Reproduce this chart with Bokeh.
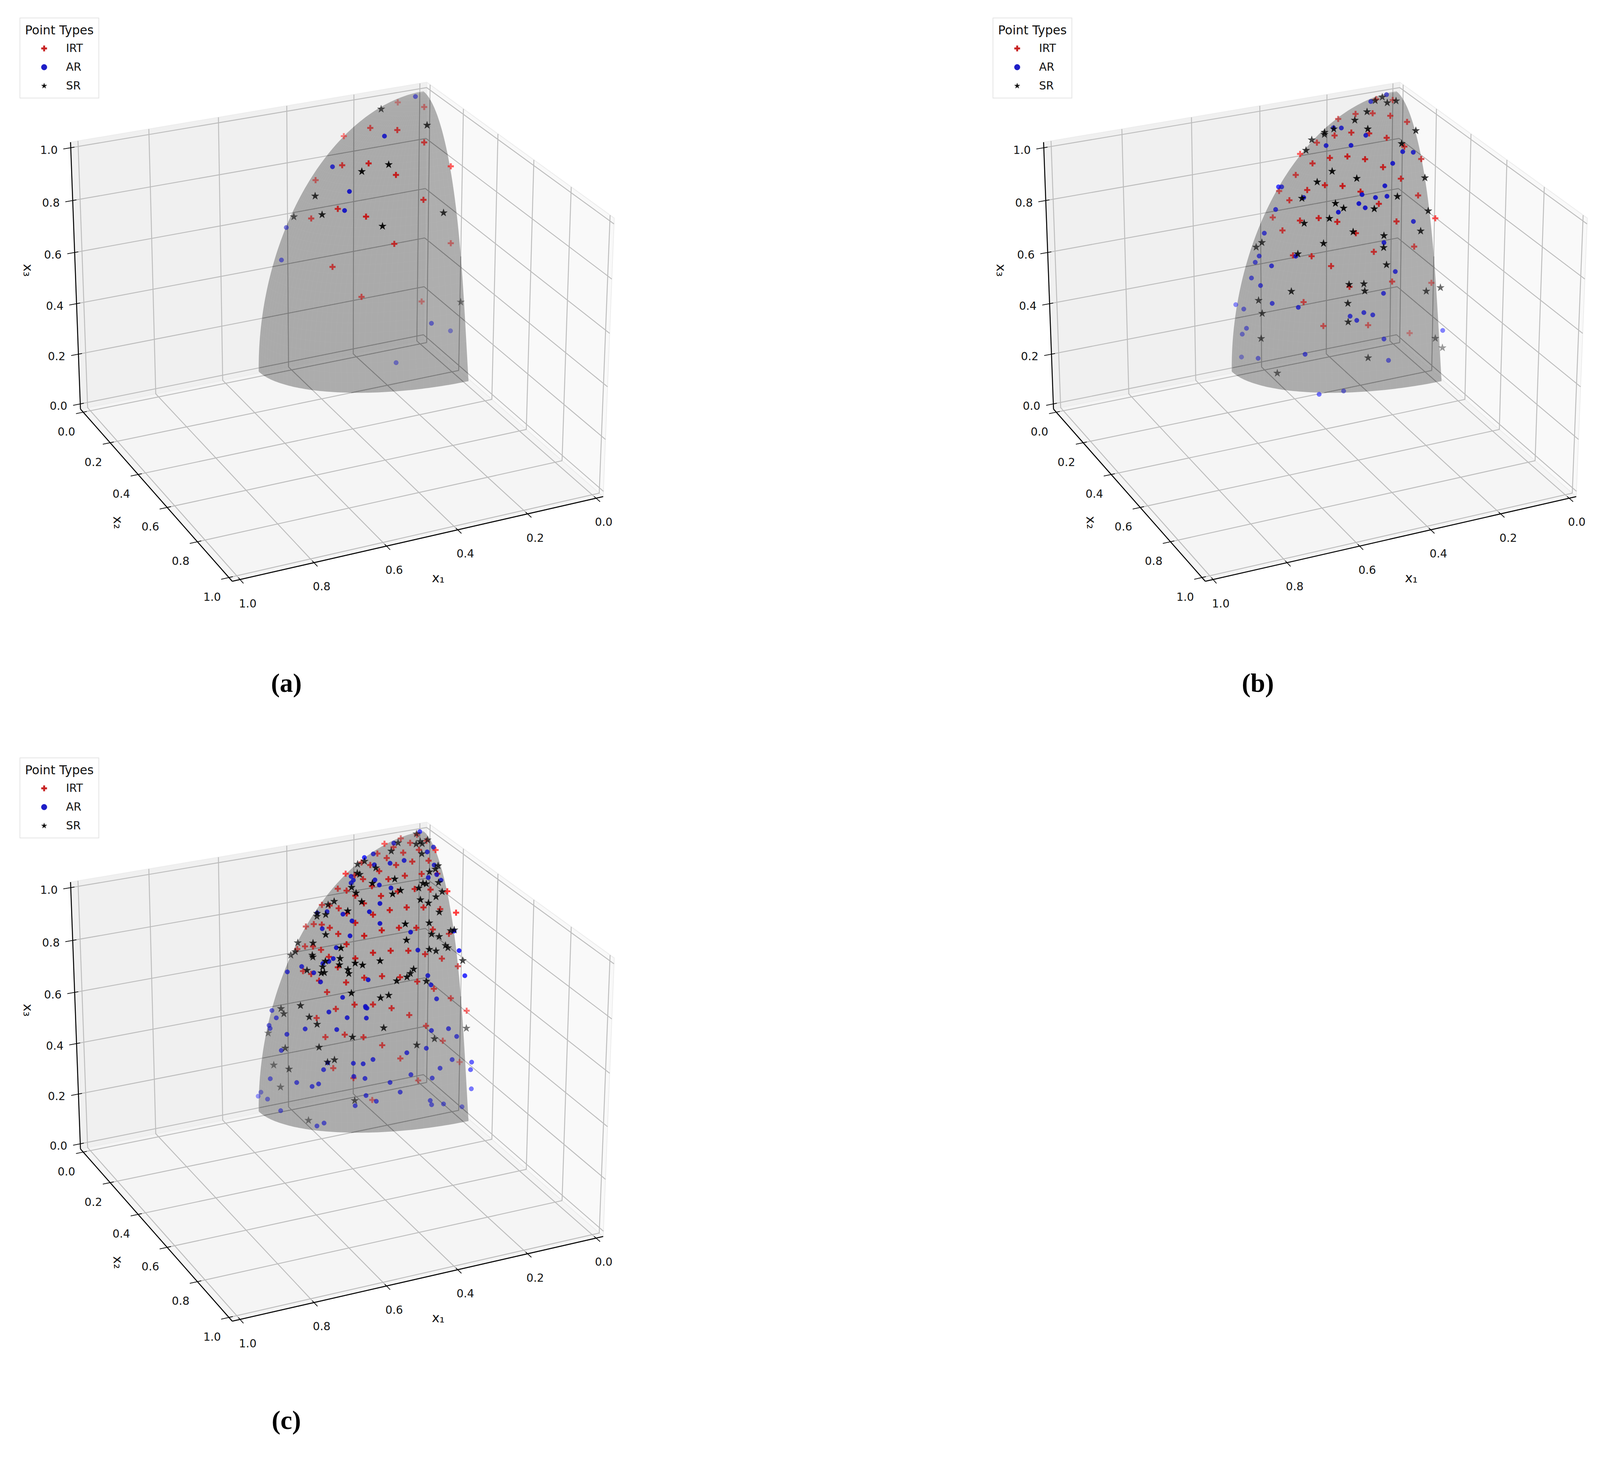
import numpy as np
from bokeh.plotting import figure
from bokeh.layouts import column, row
from bokeh.models import Range1d, Legend, LegendItem, ColumnDataSource
from bokeh.core.properties import value
from bokeh.embed import file_html
from bokeh.resources import INLINE

TICKS = [0.0, 0.2, 0.4, 0.6, 0.8, 1.0]
TICK_LABELS = ["0.0", "0.2", "0.4", "0.6", "0.8", "1.0"]
SERIES = ["IRT", "AR", "SR"]

# points (crop pixel readings)
A_IRT = [(988,123),(1163,145),(806,245),(985,255),(631,284),(1163,314),(1339,428),(620,423),(795,414),(976,469),(444,494),(1158,588),(591,631),(415,677),(778,668),(965,798),(1339,795),(556,908),(748,1051),(1146,1073)]
A_AR = [(1105,95),(900,284),(556,430),(668,548),(636,639),(250,720),(218,875),(1211,1177),(1337,1213),(977,1365)]
A_SR = [(878,155),(1182,232),(928,420),(750,453),(441,570),(487,659),(300,669),(1291,650),(887,714),(1405,1076)]

B_IRT = [(1067,107),(1176,112),(930,178),(1043,175),(1160,187),(1271,216),(815,202),(902,267),(1020,271),(791,281),(1136,292),(674,315),(1253,334),(563,369),(760,388),(876,381),(993,394),(1365,393),(645,414),(1112,432),(534,469),(1230,487),(727,518),(844,522),(610,541),(963,549),(424,546),(492,590),(1344,567),(1084,607),(382,672),(686,675),(562,687),(809,693),(1201,691),(1458,676),(446,734),(932,747),(1318,811),(516,853),(639,857),(1051,836),(768,904),(1172,978),(890,1003),(1432,984),(586,1076),(717,1190),(1013,1186),(1288,1224)]
B_AR = [(1135,86),(1031,119),(784,244),(836,245),(998,280),(735,329),(900,328),(1242,358),(1312,361),(1176,414),(420,526),(441,526),(1124,521),(587,577),(973,563),(1062,577),(1138,571),(952,606),(994,626),(816,647),(401,634),(326,747),(1313,691),(1118,792),(292,856),(534,857),(266,886),(374,903),(1193,930),(241,961),(301,997),(1115,1034),(137,1088),(190,1109),(378,1082),(551,1101),(894,1143),(985,1126),(1044,1137),(938,1163),(208,1201),(180,1229),(1507,1211),(1118,1252),(596,1325),(175,1338),(285,1344),(1148,1354),(851,1500),(689,1516)]
B_SR = [(1107,98),(1060,115),(1140,125),(1198,116),(1006,168),(925,208),(1329,258),(1011,250),(786,250),(725,266),(724,276),(640,302),(1235,320),(602,352),(775,452),(938,486),(1389,483),(676,503),(575,581),(1207,572),(797,605),(851,628),(1054,631),(1411,641),(757,677),(590,700),(1361,737),(914,741),(1118,759),(718,796),(310,792),(272,814),(1116,816),(548,846),(1135,898),(887,992),(985,989),(991,1023),(505,1025),(1398,1024),(1492,1007),(288,1068),(879,1082),(312,1130),(881,1171),(305,1250),(1458,1249),(1505,1294),(1013,1342),(412,1415)]

C_TOP_IRT = [(1008,163),(1115,135),(900,205),(1070,198),(1178,182),(960,232),(853,282),(1024,275),(1128,253),(1238,254),(915,317),(1192,338),(748,352),(1084,345),(806,372),(977,372),(865,420),(643,440),(1146,442),(1250,440),(703,453),(758,483),(926,483),(1035,456),(591,558),(817,538),(649,573),(1100,560),(1205,565),(988,579),(1316,578),(707,613),(877,615),(486,685),(537,690),(764,673),(597,712),(935,726),(1047,705),(1158,705),(1269,718),(650,752),(824,762),(1374,746),(380,855),(432,836),(485,840),(707,826),(538,865),(882,885),(996,865),(1111,865),(1220,878),(594,913),(766,928),(1327,912),(649,994),(374,1011),(427,1012),(323,1032),(480,1038),(824,1061),(941,1045),(1058,1045),(1169,1072),(532,1093),(707,1105),(1280,1107),(1386,1167),(591,1175),(361,1205),(415,1228),(884,1245),(766,1257),(1003,1253)]
C_TOP_AR = [(1134,110),(962,200),(1224,231),(1183,269),(826,285),(767,313),(1030,336),(937,358),(833,370),(1229,372),(679,461),(1246,447),(1190,470),(694,491),(837,489),(1274,491),(679,513),(866,529),(943,552),(870,674),(800,739),(520,738),(625,758),(455,748),(685,811),(870,831),(488,872),(1361,890),(1073,899),(672,928),(581,1021),(1121,1040),(1394,1044),(561,1107),(532,1129),(492,1145),(352,1169),(432,1218),(257,1211),(1432,1241),(1187,1240)]
C_TOP_SR = [(1112,128),(1185,175),(1137,188),(1110,208),(1150,205),(990,198),(945,263),(1147,284),(768,343),(722,366),(1255,378),(843,395),(1237,405),(720,436),(736,446),(1198,426),(968,482),(1258,510),(820,516),(1155,516),(1177,520),(682,548),(1127,553),(1006,571),(954,600),(712,592),(1282,582),(1241,622),(567,658),(527,684),(1138,645),(749,661),(1191,671),(657,733),(1263,742),(454,752),(453,776),(511,762),(1038,835),(1196,827),(1338,888),(1362,882),(511,919),(1212,915),(1262,934),(1046,962),(326,983),(427,985),(1304,1004),(1320,1022),(612,1024),(1197,1035),(1241,1047),(310,1053),(280,1080),(422,1080),(426,1095),(606,1106),(509,1127),(1418,1123),(871,1125),(706,1143),(755,1158),(602,1156),(491,1172),(387,1199),(1093,1190),(658,1194),(1071,1224),(1049,1252),(664,1225),(482,1220),(502,1217)]
C_LOW_IRT = [(467,20),(646,34),(1117,27),(1227,84),(520,110),(1339,158),(702,208),(824,207),(947,236),(578,242),(1444,256),(451,313),(1064,290),(1175,375),(637,444),(509,463),(761,464),(1286,492),(885,527),(1005,631),(1397,659),(561,707),(695,785),(1123,804),(819,957)]
C_LOW_AR = [(477,30),(792,13),(1208,53),(623,151),(1245,163),(774,222),(784,236),(776,232),(155,254),(532,266),(184,312),(653,311),(780,314),(136,371),(143,395),(375,399),(584,404),(1211,411),(1324,397),(254,441),(1378,458),(217,568),(1177,551),(1048,586),(824,639),(1348,640),(1477,660),(694,669),(759,673),(524,665),(1268,707),(497,719),(1470,719),(1075,758),(697,772),(144,790),(771,788),(1216,785),(319,820),(937,819),(464,831),(421,851),(1475,869),(82,896),(64,927),(1004,895),(778,922),(126,950),(846,967),(1203,961),(1212,994),(1291,988),(706,1002),(1413,1010),(213,1041),(500,1138),(453,1161)]
C_LOW_SR = [(981,22),(1177,25),(681,118),(874,155),(928,135),(215,240),(344,216),(234,280),(402,306),(454,363),(895,391),(1442,394),(130,432),(1231,477),(688,464),(1114,526),(243,550),(467,543),(569,642),(523,660),(167,683),(268,715),(212,856),(703,962),(397,1117)]

# layout factor: one reference pixel in page pixels
K = 0.978

# camera of the 3D box
ELEV, AZIM, DIST = np.radians(25.0), np.radians(65.0), 10.0
ASPECT = np.array([4.0, 4.0, 3.0])
L = ASPECT * 1.8294640721620434 * 25 / 24 / np.linalg.norm(ASPECT)
W_ = np.array([np.cos(ELEV)*np.cos(AZIM), np.cos(ELEV)*np.sin(AZIM), np.sin(ELEV)])
U_ = np.array([-np.sin(AZIM), np.cos(AZIM), 0.0])
V_ = np.cross(W_, U_)
SCALE, CX, CY = 8460.0, 876.0, 832.0
M = 1/48
RADII = np.array([0.5, 0.28, 1.0])
B_LOW, B_HIGH = 0.30, 0.27


def b_of(z):
    return B_HIGH + (B_LOW - B_HIGH)*(1 - z)**4


def surf(th, ph):
    z = np.cos(th)
    return RADII[0]*np.sin(th)*np.cos(ph), b_of(z)*np.sin(th)*np.sin(ph), z


def px(v):
    return f"{v*K:.2f}px"


def proj(x, y, z):
    P = np.stack([np.asarray(x, float), np.asarray(y, float), np.asarray(z, float)], -1)
    d = (P - 0.5) * L
    depth = DIST - d @ W_
    return CX + SCALE * (d @ U_) / depth, CY - SCALE * (d @ V_) / depth


def hit(X, Y):
    X, Y = np.asarray(X, float), np.asarray(Y, float)
    dirn = ((X - CX)/SCALE)[..., None]*U_ + ((CY - Y)/SCALE)[..., None]*V_ - W_
    O = DIST * W_ / L + 0.5
    D = dirn / L
    a = np.sum(D*D/RADII**2, -1)
    b = 2*np.sum(O*D/RADII**2, -1)
    c = np.sum(O*O/RADII**2) - 1
    disc = b*b - 4*a*c
    t = (-b - np.sqrt(np.maximum(disc, 0)))/(2*a)
    return O + t[..., None]*D


HALF = np.pi/2
_t = np.linspace(0, HALF, 80)
OUT_X, OUT_Y = proj(*[np.r_[u, v, w] for u, v, w in zip(
    surf(HALF + 0*_t, _t), surf(HALF - _t, HALF + 0*_t), surf(_t, 0*_t))])


def in_outline(X, Y):
    X, Y = np.asarray(X, float), np.asarray(Y, float)
    x0, y0 = OUT_X, OUT_Y
    x1, y1 = np.roll(OUT_X, -1), np.roll(OUT_Y, -1)
    res = np.zeros(X.shape, bool)
    for a, b, c, d in zip(x0, y0, x1, y1):
        if b == d:
            continue
        cond = (b > Y) != (d > Y)
        xc = a + (Y - b)*(c - a)/(d - b)
        res ^= cond & (X < xc)
    return res


def shade(X, Y):
    P = hit(X, Y)
    d = ((np.clip(P, 0, None) - 0.5)*L) @ W_
    n = (d - d.min())/max(d.max() - d.min(), 1e-9)
    return 0.38 + 0.57*n, in_outline(X, Y)


def read(pairs, x0, y0, sx, sy):
    a = np.array(pairs, float)
    return x0 + a[:, 0]/sx, y0 + a[:, 1]/sy


def line3(p, P0, P1, **kw):
    X, Y = proj(*zip(P0, P1))
    p.line(X, Y, **kw)


def panel(width, height, pts, caption, cap_x, cap_y):
    w, h = int(round(width*K)), int(round(height*K))
    p = figure(width=w, height=h, x_range=Range1d(0, w/K), y_range=Range1d(h/K, 0),
               x_axis_type=None, y_axis_type=None, toolbar_location=None, output_backend="svg",
               min_border=0, outline_line_color=None, background_fill_color="white", border_fill_color=None)
    p.grid.visible = False
    lo, hi = -M, 1+M
    for q, col in (([(lo,lo,lo),(lo,hi,lo),(lo,hi,hi),(lo,lo,hi)], "#f9f9f9"),
                   ([(lo,lo,lo),(hi,lo,lo),(hi,lo,hi),(lo,lo,hi)], "#f0f0f0"),
                   ([(lo,lo,lo),(hi,lo,lo),(hi,hi,lo),(lo,hi,lo)], "#f5f5f5")):
        X, Y = proj(*zip(*q))
        p.patch(X, Y, fill_color=col, line_color="#ececec", line_width=2*K)
    grid_paths = []
    for k in TICKS:
        grid_paths += [[(k,hi,lo),(k,lo,lo),(k,lo,hi)], [(hi,k,lo),(lo,k,lo),(lo,k,hi)], [(hi,lo,k),(lo,lo,k),(lo,hi,k)]]
    xs, ys = [], []
    for g in grid_paths:
        X, Y = proj(*zip(*g))
        xs.append(X); ys.append(Y)
    p.multi_line(xs, ys, line_color="#bcbcbc", line_width=2.4*K)
    p.patch(OUT_X, OUT_Y, fill_color="#808080", fill_alpha=0.62, line_color=None)
    mx, my = [], []
    t2 = np.linspace(0, HALF, 40)
    for v in np.linspace(0, HALF, 42)[1:-1]:
        X, Y = proj(*surf(v + 0*t2, t2))
        mx.append(X); my.append(Y)
        X, Y = proj(*surf(t2, v + 0*t2))
        mx.append(X); my.append(Y)
    p.multi_line(mx, my, line_color="white", line_alpha=0.035, line_width=1.5*K)
    sx, sy = [], []
    for g in grid_paths:
        for i in range(2):
            f = np.linspace(0, 1, 300)
            P = np.outer(1-f, g[i]) + np.outer(f, g[i+1])
            X, Y = proj(P[:, 0], P[:, 1], P[:, 2])
            ins = in_outline(X, Y)
            if ins.any():
                sx.append(X[ins]); sy.append(Y[ins])
    p.multi_line(sx, sy, line_color="#7c7c7c", line_width=2.2*K)
    line3(p, (lo,hi,lo), (hi,hi,lo), line_color="black", line_width=2.6*K)
    line3(p, (hi,lo,lo), (hi,hi,lo), line_color="black", line_width=2.6*K)
    line3(p, (hi,lo,lo), (hi,lo,hi), line_color="black", line_width=2.6*K)
    tin, tout = 0.0104, 0.0208
    for k, lab in zip(TICKS, TICK_LABELS):
        line3(p, (k,hi-tin,lo), (k,hi+tout,lo), line_color="black", line_width=1.8*K)
        line3(p, (hi-tin,k,lo), (hi+tout,k,lo), line_color="black", line_width=1.8*K)
        line3(p, (hi-tin,lo,k), (hi+tout,lo,k), line_color="black", line_width=1.8*K)
        for pos, off in (((k,hi,lo),(20,62)), ((hi,k,lo),(-44,50)), ((hi,lo,k),(-57,5))):
            X, Y = proj(*pos)
            p.text([X], [Y], text=[lab], text_align="center", text_baseline="middle", x_offset=off[0]*K, y_offset=off[1]*K,
                   text_font=value("DejaVu Sans"), text_font_size=px(29), text_color="#111111")
    for txt, xx, yy, ang in (("x\u2081", 1147, 1512, -0.05), ("x\u2082", 309, 1367, -1.5), ("x\u2083", 73, 707, -1.57)):
        p.text([xx], [yy], text=[txt], angle=[ang], text_align="center", text_baseline="middle",
               text_font=value("DejaVu Sans"), text_font_size=px(34), text_color="#111111")
    markers = (("cross", "red", "#c41414", 16, 5.0), ("circle", "blue", "#1212c4", 12, 0.5), ("star", "black", "#000000", 21, 0.5))
    items = []
    for name, (mk, col, under, size, lw), (X, Y) in zip(SERIES, markers, pts):
        al, ins = shade(X, Y)
        cols = [under if i else col for i in ins]
        src = ColumnDataSource(dict(x=X, y=Y, a=al, c=cols))
        r = p.scatter("x", "y", source=src, marker=mk, size=size*K, fill_color="c", line_color="c", fill_alpha="a", line_alpha="a", line_width=lw*K)
        items.append(LegendItem(label=name, renderers=[r], index=int(np.argmax(al))))
    leg = Legend(items=items, title="Point Types", location=(int(52*K), h-int(258*K)), orientation="vertical", margin=0,
                 padding=int(13*K), spacing=int(12*K), glyph_width=int(100*K), glyph_height=int(38*K), label_height=int(36*K), label_standoff=int(9*K),
                 title_text_font="DejaVu Sans", title_text_font_size=px(32), title_text_font_style="normal", title_text_color="#111111",
                 title_standoff=int(11*K), label_text_font="DejaVu Sans", label_text_font_size=px(29), label_text_color="#111111",
                 border_line_color="#cccccc", border_line_width=3*K, background_fill_color="white", background_fill_alpha=0.8)
    p.add_layout(leg)
    p.text([cap_x], [cap_y], text=[caption], text_align="center", text_baseline="middle",
           text_font=value("Liberation Serif"), text_font_size=px(69), text_font_style="bold", text_color="black")
    return p


sa, sb = 2.529, 1.823
pa = [read(A_IRT, 650, 200, sa, sb), read(A_AR, 650, 200, sa, sb), read(A_SR, 650, 200, sa, sb)]
pb = [read(B_IRT, 633, 200, sa, sb), read(B_AR, 633, 200, sa, sb), read(B_SR, 633, 200, sa, sb)]
pc = []
for top, low in ((C_TOP_IRT, C_LOW_IRT), (C_TOP_AR, C_LOW_AR), (C_TOP_SR, C_LOW_SR)):
    x1, y1 = read(top, 650, 203, sa, 3.0)
    x2, y2 = read(low, 650, 623, sa, 3.0)
    pc.append((np.r_[x1, x2], np.r_[y1, y2]))

DX, DY = 2547, 1937
fa = panel(DX, DY, pa, "(a)", 749, 1787)
fb = panel(1630, DY, pb, "(b)", 745, 1787)
fc = panel(DX, 3786-DY, pc, "(c)", 749, 1780)
page = column(row(fa, fb, spacing=0), fc, spacing=0)
open("out.html", "w").write(file_html(page, INLINE))
